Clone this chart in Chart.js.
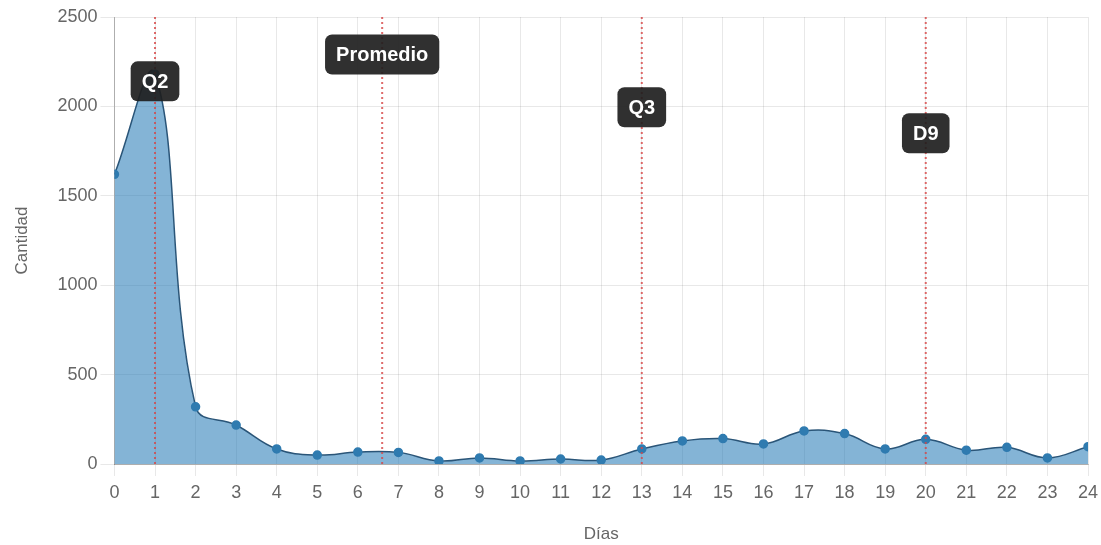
<!DOCTYPE html>
<html>
<head>
<meta charset="utf-8">
<script src="https://cdn.jsdelivr.net/npm/chart.js@4.4.0/dist/chart.umd.min.js"></script>
<style>
  html, body { margin: 0; padding: 0; background: #fff; }
  #wrap { width: 1101px; height: 545px; }
</style>
</head>
<body>
<div id="wrap"><canvas id="grafico"></canvas></div>
<script>
// datos
var dias = ['0','1','2','3','4','5','6','7','8','9','10','11','12','13','14','15','16','17','18','19','20','21','22','23','24']
var cantidad = [1620, 2180, 320, 218, 84, 50, 67, 65, 17, 34, 17, 28, 22, 84, 129, 142, 112, 185, 170, 84, 138, 77, 93, 34, 97]

// lineas de referencia (x en dias, y de la etiqueta en cantidad)
var marcas_nombre = ['Q2', 'Promedio', 'Q3', 'D9']
var marcas_x = [1, 6.6, 13, 20]
var marcas_y_etiqueta = [2140, 2290, 1995, 1850]

var fuente = "'Liberation Sans', Arial, sans-serif"

const marcas = {
    id: 'marcas',
    afterDatasetsDraw(chart){
        const ctx = chart.ctx
        const xs = chart.scales.x
        const ys = chart.scales.y
        const area = chart.chartArea
        ctx.save()
        for(let i = 0; i < marcas_x.length; i++){
            let px = xs.getPixelForValue(marcas_x[i])
            ctx.beginPath()
            ctx.setLineDash([2, 3])
            ctx.lineWidth = 2
            ctx.strokeStyle = 'rgba(215, 70, 70, 0.8)'
            ctx.moveTo(px, area.top)
            ctx.lineTo(px, area.bottom)
            ctx.stroke()
        }
        ctx.setLineDash([])
        ctx.font = 'bold 20px ' + fuente
        ctx.textAlign = 'center'
        ctx.textBaseline = 'middle'
        for(let i = 0; i < marcas_x.length; i++){
            let px = xs.getPixelForValue(marcas_x[i])
            let py = ys.getPixelForValue(marcas_y_etiqueta[i])
            let w = ctx.measureText(marcas_nombre[i]).width + 22
            let h = 40
            ctx.fillStyle = 'rgba(30, 30, 30, 0.92)'
            ctx.beginPath()
            ctx.roundRect(px - w / 2, py - h / 2, w, h, 7)
            ctx.fill()
            ctx.fillStyle = '#fff'
            ctx.fillText(marcas_nombre[i], px, py + 1)
        }
        ctx.restore()
    }
}

const ctx = document.getElementById('grafico').getContext('2d')
const myChart = new Chart(ctx, {
    type: 'line',
    data: {
        labels: dias,
        datasets: [{
            label: 'Cantidad',
            data: cantidad,
            fill: true,
            tension: 0.4,
            backgroundColor: 'rgba(31, 119, 180, 0.55)',
            borderColor: '#2a5578',
            borderWidth: 1.5,
            pointRadius: 4,
            pointBackgroundColor: '#2f7bb0',
            pointBorderColor: '#2f7bb0'
        }]
    },
    options: {
        responsive: true,
        maintainAspectRatio: false,
        animation: false,
        layout: {
            padding: { top: 17, right: 3, left: 12, bottom: 0 }
        },
        plugins: {
            legend: { display: false },
            tooltip: { enabled: false }
        },
        scales: {
            x: {
                type: 'linear',
                min: 0,
                max: 24,
                afterFit: function(scale){ scale.paddingRight = 13 },
                ticks: {
                    stepSize: 1,
                    color: '#666',
                    font: { family: fuente, size: 18 },
                    padding: 6,
                    callback: function(v){ return String(v) }
                },
                grid: { color: 'rgba(0,0,0,0.09)', tickLength: 12 },
                border: { color: 'rgba(0,0,0,0.25)' },
                title: {
                    display: true,
                    text: 'Días',
                    color: '#666',
                    font: { family: fuente, size: 17 },
                    padding: { top: 15, bottom: 0 }
                }
            },
            y: {
                min: 0,
                max: 2500,
                ticks: {
                    stepSize: 500,
                    color: '#666',
                    font: { family: fuente, size: 18 },
                    padding: 3,
                    callback: function(v){ return String(v) }
                },
                grid: { color: 'rgba(0,0,0,0.09)', tickLength: 14 },
                border: { color: 'rgba(0,0,0,0.25)' },
                title: {
                    display: true,
                    text: 'Cantidad',
                    color: '#666',
                    font: { family: fuente, size: 17 },
                    padding: { top: 0, bottom: 22 }
                }
            }
        }
    },
    plugins: [marcas]
})
</script>
</body>
</html>
